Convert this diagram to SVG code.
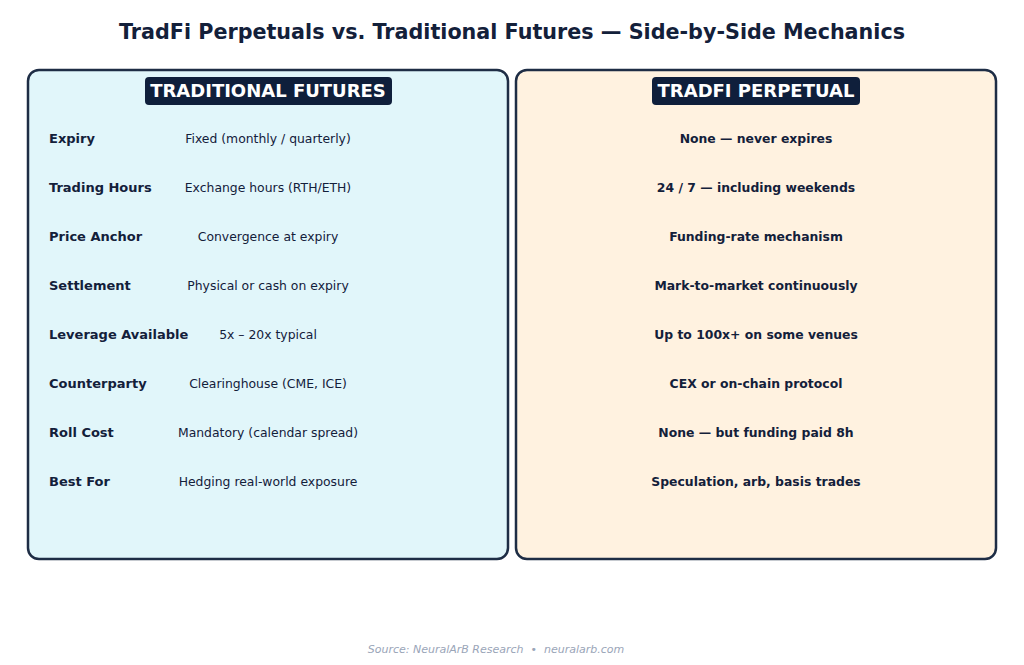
<svg xmlns="http://www.w3.org/2000/svg" width="1024" height="665" viewBox="0 0 1024 665">
<style>
text{font-family:"DejaVu Sans",sans-serif;fill:#13203a}
.t{font-size:20.7px;font-weight:bold;text-anchor:middle}
.h{font-size:18px;font-weight:bold;fill:#fff;text-anchor:middle}
.l{font-size:13px;font-weight:bold}
.v{font-size:12.4px;text-anchor:middle}
.r{font-size:12.4px;font-weight:bold;text-anchor:middle}
.p{stroke:#1e2d45;stroke-width:2.5}
.b{fill:#0f1f3b}
</style>
<rect width="1024" height="665" fill="#fff"/>
<text class="t" x="512" y="39">TradFi Perpetuals vs. Traditional Futures — Side-by-Side Mechanics</text>
<g id="traditional">
<rect class="p" x="28" y="70" width="480" height="489" rx="11" fill="#e1f6fa"/>
<rect class="b" x="145" y="77" width="247" height="28" rx="4"/>
<text class="h" x="268" y="97">TRADITIONAL FUTURES</text>
<text class="l" x="49" y="143">Expiry</text><text class="v" x="268" y="143">Fixed (monthly / quarterly)</text>
<text class="l" x="49" y="192">Trading Hours</text><text class="v" x="268" y="192">Exchange hours (RTH/ETH)</text>
<text class="l" x="49" y="241">Price Anchor</text><text class="v" x="268" y="241">Convergence at expiry</text>
<text class="l" x="49" y="290">Settlement</text><text class="v" x="268" y="290">Physical or cash on expiry</text>
<text class="l" x="49" y="339">Leverage Available</text><text class="v" x="268" y="339">5x – 20x typical</text>
<text class="l" x="49" y="388">Counterparty</text><text class="v" x="268" y="388">Clearinghouse (CME, ICE)</text>
<text class="l" x="49" y="437">Roll Cost</text><text class="v" x="268" y="437">Mandatory (calendar spread)</text>
<text class="l" x="49" y="486">Best For</text><text class="v" x="268" y="486">Hedging real-world exposure</text>
</g>
<g id="perpetual">
<rect class="p" x="516" y="70" width="480" height="489" rx="11" fill="#fff2e0"/>
<rect class="b" x="652" y="77" width="208" height="28" rx="4"/>
<text class="h" x="756" y="97">TRADFI PERPETUAL</text>
<text class="r" x="756" y="143">None — never expires</text>
<text class="r" x="756" y="192">24 / 7 — including weekends</text>
<text class="r" x="756" y="241">Funding-rate mechanism</text>
<text class="r" x="756" y="290">Mark-to-market continuously</text>
<text class="r" x="756" y="339">Up to 100x+ on some venues</text>
<text class="r" x="756" y="388">CEX or on-chain protocol</text>
<text class="r" x="756" y="437">None — but funding paid 8h</text>
<text class="r" x="756" y="486">Speculation, arb, basis trades</text>
</g>
<g id="connectors"/>
<text x="496" y="653" xml:space="preserve" style="font-size:11px;font-style:italic;fill:#9aa5b8;text-anchor:middle">Source: NeuralArB Research  •  neuralarb.com</text>
</svg>
